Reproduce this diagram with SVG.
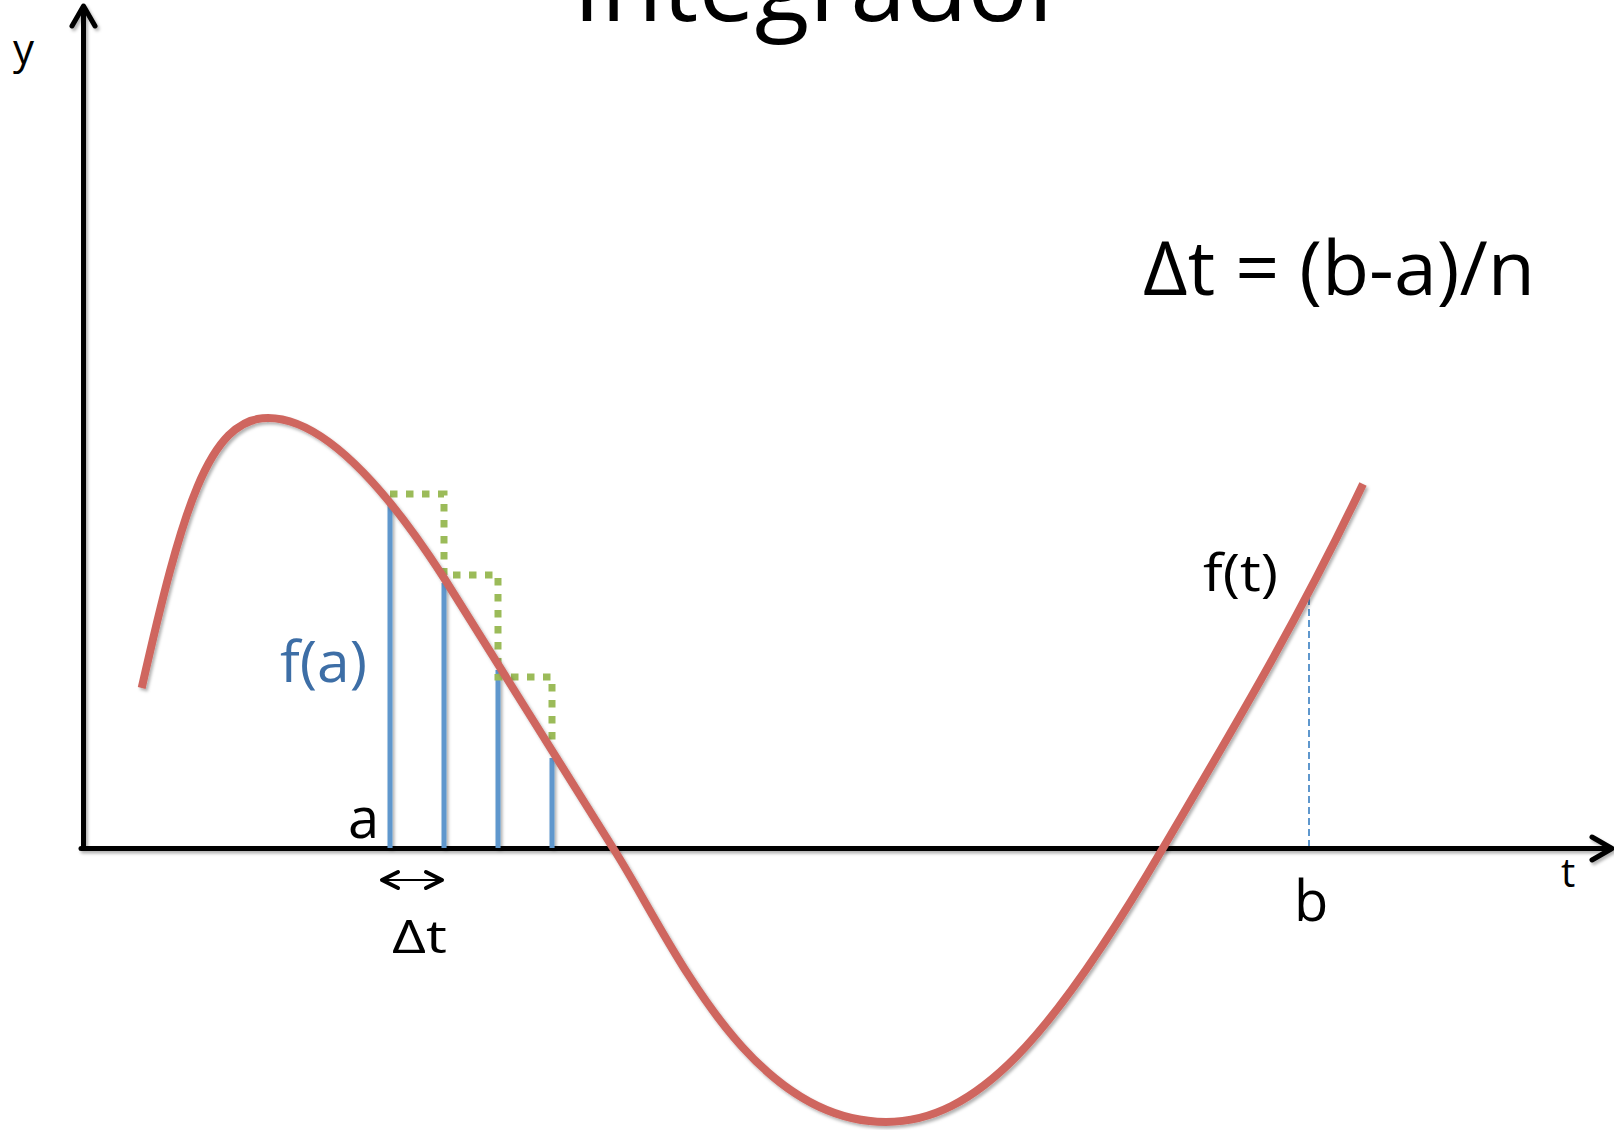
<svg xmlns="http://www.w3.org/2000/svg" width="1614" height="1130" viewBox="0 0 1614 1130">
  <style>
    .txt { font-family: "Open Sans", "Liberation Sans", sans-serif; fill: #000; }
    .axis { stroke: #000; stroke-width: 5; fill: none; stroke-linecap: round; stroke-linejoin: round; }
    .bar { stroke: #5E97CD; stroke-width: 5; fill: none; }
    .step { stroke: #9BBB59; stroke-width: 7; fill: none; stroke-dasharray: 7.5 8.5; }
    .curve { stroke: #CF665F; stroke-width: 8; fill: none; }
    .guide { stroke: #5E97CD; stroke-width: 2; fill: none; stroke-dasharray: 7 4; }
    .dt { stroke: #000; fill: none; stroke-linecap: round; stroke-linejoin: round; }
  </style>
  <defs>
    <filter id="shadow" x="-5%" y="-5%" width="110%" height="110%">
      <feDropShadow dx="2" dy="2.5" stdDeviation="1.5" flood-color="#000" flood-opacity="0.3"/>
    </filter>
  </defs>
  <rect width="1614" height="1130" fill="#fff"/>

  <g id="title">
    <text class="txt" x="573" y="21" font-size="98" textLength="496" lengthAdjust="spacingAndGlyphs">Integrador</text>
  </g>

  <g id="axes" filter="url(#shadow)">
    <line class="axis" x1="83.5" y1="8" x2="83.5" y2="848.5"/>
    <polyline class="axis" points="72,26 83.5,6 95,26"/>
    <line class="axis" x1="81" y1="848.5" x2="1610" y2="848.5"/>
    <polyline class="axis" points="1592,837 1612,848.5 1592,860"/>
  </g>

  <g id="axis-labels">
    <text class="txt" x="13" y="64" font-size="42">y</text>
    <text class="txt" x="1561" y="887" font-size="40">t</text>
    <text class="txt" x="348" y="838" font-size="56">a</text>
    <text class="txt" x="1294" y="921" font-size="56">b</text>
  </g>

  <g id="samples" filter="url(#shadow)">
    <line class="bar" x1="390" y1="505" x2="390" y2="848"/>
    <line class="bar" x1="444" y1="583" x2="444" y2="848"/>
    <line class="bar" x1="498" y1="670" x2="498" y2="848"/>
    <line class="bar" x1="552" y1="758" x2="552" y2="848"/>
  </g>

  <g id="steps">
    <path class="step" d="M390,494 H444 V575 H498 V677 H552 V745"/>
  </g>

  <g id="b-guide">
    <line class="guide" x1="1309" y1="598" x2="1309" y2="846"/>
  </g>

  <g id="function-curve" filter="url(#shadow)">
    <path class="curve" d="M141.7,688 C181.7,512 208,418 268,418 C328,418 394,500.5 444,578 C500,666.5 557,759.5 613,848 C669,934.8 746,1122 886,1122 C976,1122 1051,1039 1163,848 C1230,734 1296,624.7 1363,484"/>
  </g>

  <g id="delta-t-marker">
    <line class="dt" x1="384" y1="880" x2="440" y2="880" stroke-width="2"/>
    <polyline class="dt" points="398,872 382,880 398,888" stroke-width="4"/>
    <polyline class="dt" points="426,872 442,880 426,888" stroke-width="4"/>
    <text class="txt" x="392" y="953" font-size="46" textLength="55" lengthAdjust="spacingAndGlyphs">Δt</text>
  </g>

  <g id="labels">
    <text class="txt" x="280" y="682" font-size="56" style="fill:#3D6EA6" textLength="87" lengthAdjust="spacingAndGlyphs">f(a)</text>
    <text class="txt" x="1203" y="591" font-size="52" textLength="75" lengthAdjust="spacingAndGlyphs">f(t)</text>
    <text class="txt" x="1143" y="295" font-size="75" textLength="392" lengthAdjust="spacingAndGlyphs">Δt = (b-a)/n</text>
  </g>
</svg>
